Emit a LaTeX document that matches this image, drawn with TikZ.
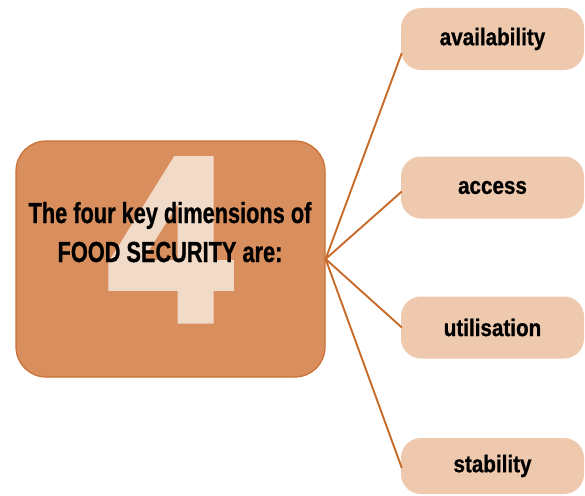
\documentclass[tikz,border=0pt]{standalone}
\usepackage{fontspec}
\newfontfamily\leftfont[FakeStretch=0.75,FakeBold=0.8]{Liberation Sans}
\newfontfamily\rightfont[FakeStretch=0.86,FakeBold=0.8]{Liberation Sans}
\newfontfamily\bigfont[FakeStretch=0.95,FakeBold=3]{Liberation Sans}
\definecolor{mainfill}{HTML}{D98E5E}
\definecolor{maindraw}{HTML}{CB7035}
\definecolor{linecol}{HTML}{C96A28}
\definecolor{itemfill}{HTML}{EFC9AE}
\definecolor{fourcol}{HTML}{F1DAC7}
\tikzset{
  mainbox/.style={draw=maindraw, line width=1.2pt, fill=mainfill, rounded corners=30pt,
    minimum width=309pt, minimum height=236pt, inner sep=0pt},
  itembox/.style={fill=itemfill, rounded corners=20pt, minimum width=183pt,
    minimum height=62pt, inner sep=0pt, font=\rightfont\bfseries\fontsize{24}{28}\selectfont},
  conn/.style={draw=linecol, line width=1.9pt}
}
\begin{document}
\begin{tikzpicture}[x=1pt,y=-1pt]
\useasboundingbox (0,0) rectangle (585,495);
\node[mainbox] (main) at (170.5,259) {};
\node[anchor=base, inner sep=0pt, text=fourcol, font=\bigfont\bfseries\fontsize{233}{233}\selectfont] (four) at (170,320) {4};
\node[anchor=base, inner sep=0pt, font=\leftfont\bfseries\fontsize{29}{38}\selectfont] (line1) at (170,223) {The four key dimensions of};
\node[anchor=base, inner sep=0pt, font=\leftfont\bfseries\fontsize{29}{38}\selectfont] (line2) at (170,262) {FOOD SECURITY are:};
\node[itembox] (avail) at (492.5,39) {availability};
\node[itembox] (access) at (492.5,187.5) {access};
\node[itembox] (util) at (492.5,327.5) {utilisation};
\node[itembox, minimum height=56pt] (stab) at (492.5,466) {stability};
\draw[conn] (main.east) -- ([yshift=-14pt,xshift=1pt]avail.west);
\draw[conn] (main.east) -- ([yshift=-4pt,xshift=1pt]access.west);
\draw[conn] (main.east) -- ([xshift=1pt]util.west);
\draw[conn] (main.east) -- ([yshift=-2pt,xshift=1pt]stab.west);
\end{tikzpicture}
\end{document}
